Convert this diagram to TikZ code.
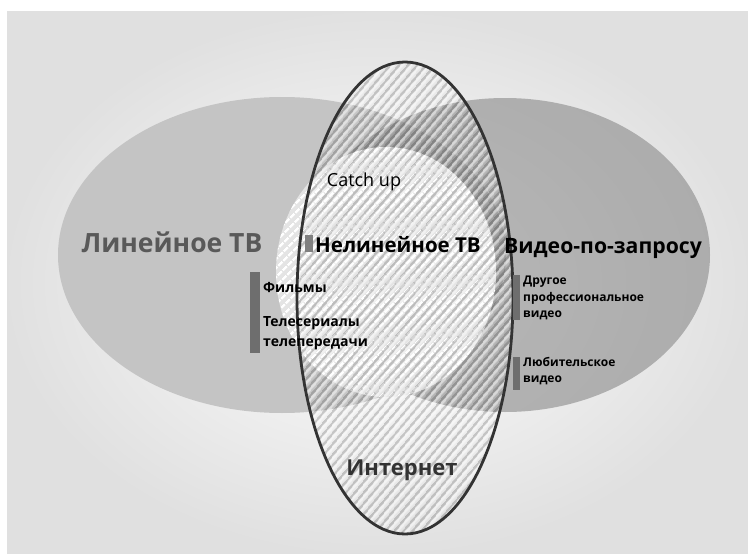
\documentclass[tikz,border=0pt]{standalone}
\usepackage{fontspec}
\setmainfont{Open Sans}
\usetikzlibrary{positioning,patterns.meta}

\definecolor{linfill}{HTML}{C4C4C4}
\definecolor{vodfill}{HTML}{808080}
\definecolor{circfill}{HTML}{E4E4E4}
\definecolor{netline}{HTML}{333333}
\definecolor{barcol}{HTML}{6E6E6E}

\begin{document}
\begin{tikzpicture}[x=1pt,y=-1pt]
  \tikzstyle{bigtxt}=[inner sep=0pt, font=\fontsize{20.5}{24}\selectfont\bfseries]
  \tikzstyle{smalltxt}=[inner sep=0pt, anchor=west, align=left, font=\fontsize{12}{16.5}\selectfont\bfseries]
  \tikzstyle{bar}=[fill=barcol]

  \useasboundingbox (0,0) rectangle (748,554);

  %--- background panel ---
  \shade[inner color=white, outer color=black!12] (7,11) rectangle (748,554);

  %--- the three sets ---
  \fill[linfill] (282,255) ellipse [x radius=224pt, y radius=158pt];            % linear TV
  \fill[vodfill, fill opacity=.55] (505,255) ellipse [x radius=205pt, y radius=157pt]; % VOD
  \fill[circfill] (386,272) ellipse [x radius=110pt, y radius=125pt];          % nonlinear TV
  \fill[pattern={Lines[angle=45,distance=6.5pt,line width=2.4pt]}, pattern color=white]
    (386,272) ellipse [x radius=110pt, y radius=125pt];

  %--- internet (hatched, outlined) ---
  \fill[pattern={Lines[angle=50,distance=6.5pt,line width=2.4pt]}, pattern color=black, fill opacity=.17]
    (405,298) ellipse [x radius=108pt, y radius=236pt];
  \fill[pattern={Lines[angle=50,distance=6.5pt,line width=2.4pt,xshift=3.3pt]}, pattern color=white, fill opacity=.5]
    (405,298) ellipse [x radius=108pt, y radius=236pt];
  \draw[netline, line width=2.8pt] (405,298) ellipse [x radius=108pt, y radius=236pt];

  %--- bars ---
  \fill[bar, fill=black!50] (305,235) rectangle (313,252);
  \fill[bar] (250,272) rectangle (260,353);
  \fill[bar] (513,275) rectangle (520,320);
  \fill[bar] (513,357) rectangle (520,390);

  %--- labels ---
  \node[bigtxt, font=\fontsize{26.5}{30}\selectfont\bfseries, text=black!65] (lin) at (172,242) {Линейное ТВ};
  \node[bigtxt] (nonlin) at (398,245) {Нелинейное ТВ};
  \node[bigtxt, font=\fontsize{21.2}{24}\selectfont\bfseries] (vod) at (603,248) {Видео-по-запросу};
  \node[bigtxt, font=\fontsize{22}{24}\selectfont\bfseries, text=black!80] (net) at (402,470) {Интернет};
  \node[inner sep=0pt, font=\fontsize{18}{20}\selectfont] (catch) at (364,182) {Catch up};

  \node[smalltxt, font=\fontsize{14}{20}\selectfont\bfseries] (films) at (263,287) {Фильмы};
  \node[smalltxt, font=\fontsize{14}{20}\selectfont\bfseries] (series) [below=46pt of films.west, anchor=west] {Телесериалы\\телепередачи};
  \node[smalltxt] (other) at (523,298) {Другое\\профессиональное\\видео};
  \node[smalltxt] (amateur) [below=73pt of other.west, anchor=west] {Любительское\\видео};
\end{tikzpicture}
\end{document}
